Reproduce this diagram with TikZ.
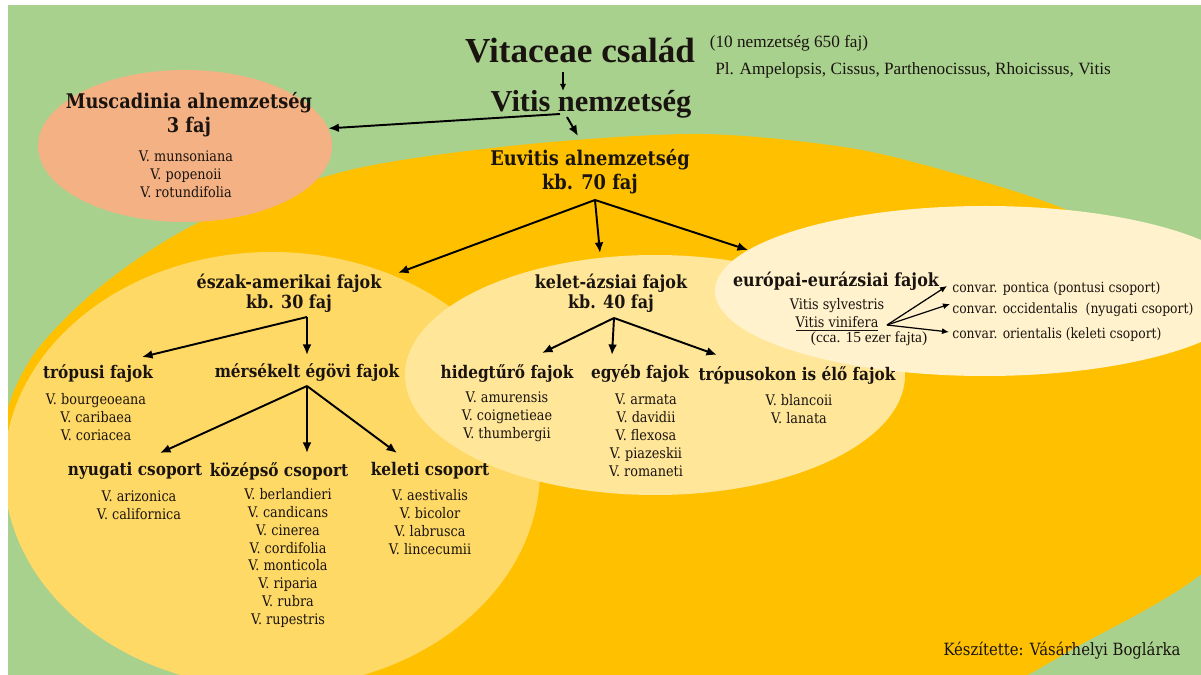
\documentclass[tikz,border=0pt]{standalone}
\usepackage{fontspec}
\setmainfont{Liberation Serif}
\newfontfamily\geo[FakeStretch=0.88]{DejaVu Serif}
\usetikzlibrary{arrows.meta,calc,shapes.geometric}

\definecolor{leaf}{HTML}{A9D18E}
\definecolor{amber}{HTML}{FFC000}
\definecolor{gold}{HTML}{FFD966}
\definecolor{straw}{HTML}{FFE699}
\definecolor{cream}{HTML}{FFF2CC}
\definecolor{salmon}{HTML}{F4B183}
\definecolor{ink}{HTML}{1A1410}

\tikzset{
  arr/.style={-{Latex[length=6pt,width=5pt]}, line width=1.1pt},
  thinarr/.style={-{Latex[length=4pt,width=3.5pt]}, line width=0.7pt},
  title/.style={font=\fontsize{20}{24}\selectfont\bfseries, text=ink, inner sep=0pt},
  genus/.style={font=\fontsize{17.3}{20}\selectfont\bfseries, text=ink, inner sep=0pt},
  note/.style={font=\fontsize{9.8}{11}\selectfont, text=ink, inner sep=0pt},
  head/.style={font=\geo\fontsize{11.5}{13.6}\selectfont\bfseries, align=center, text=ink, inner sep=0pt},
  grp/.style={font=\geo\fontsize{10.3}{11.3}\selectfont\bfseries, align=center, text=ink, inner sep=0pt},
  sub/.style={font=\geo\fontsize{9.9}{11.3}\selectfont\bfseries, align=center, text=ink, inner sep=0pt},
  spec/.style={font=\geo\fontsize{8.3}{10.2}\selectfont, align=center, text=ink, inner sep=0pt},
  convar/.style={font=\geo\fontsize{8}{9}\selectfont, text=ink, inner sep=0pt, anchor=west},
}

\begin{document}
\begin{tikzpicture}[x=0.02cm,y=-0.02cm]

	\useasboundingbox (0,0) rectangle (1201,675);
	\fill[white] (0,0) rectangle (1201,675);
	\fill[leaf] (8,5) rectangle (1201,675);
	
	% background areas
	\begin{scope}
		\clip (8,5) rectangle (1201,675);
		\fill[amber] plot [smooth cycle] coordinates{(5,440) (30,360) (100,287) (200,222) (350,170) (520,145) (700,134) (850,148) (960,175) (1067,210) (1200,275) (1290,400) (1222,555) (1080,645) (960,700) (700,730) (420,700) (200,620) (60,540)};
		\fill[gold] (272,470) ellipse (268 and 218);
		\fill[straw] (655,375) ellipse (250 and 120);
		\fill[cream] (985,291) ellipse (270 and 85);
	\end{scope}
	
	\node[ellipse, fill=salmon, minimum width=5.88cm, minimum height=3.04cm, inner sep=0pt] (musc) at (185,146) {};
	
	% top
	\node[title] (vitaceae) at (580,51) {Vitaceae család};
	\node[note] (nemz) at (789,43) {(10 nemzetség 650 faj)};
	\node[note] (pl) at (913,70) {Pl. Ampelopsis, Cissus, Parthenocissus, Rhoicissus, Vitis};
	\node[genus] (vitis) at (591,104) {Vitis nemzetség};
	
	\node[head] (muschead) at (189,115) {Muscadinia alnemzetség\\3 faj};
	\node[spec] (muscsp) at (186,174) {V. munsoniana\\V. popenoii\\V. rotundifolia};
	\node[head] (euvitis) at (590,172) {Euvitis alnemzetség\\kb. 70 faj};
	
	% eszak-amerikai
	\node[grp] (na) at (289,293) {észak-amerikai fajok\\kb. 30 faj};
	\node[sub] (trop) at (98,373) {trópusi fajok};
	\node[spec] (tropsp) at (96,417) {V. bourgeoeana\\V. caribaea\\V. coriacea};
	\node[sub] (mers) at (307,372) {mérsékelt égövi fajok};
	\node[sub] (nyug) at (135,471) {nyugati csoport};
	\node[spec] (nyugsp) at (139,505) {V. arizonica\\V. californica};
	\node[sub] (kozep) at (279,471) {középső csoport};
	\node[spec] (kozepsp) at (288,558) {V. berlandieri\\V. candicans\\V. cinerea\\V. cordifolia\\V. monticola\\V. riparia\\V. rubra\\V. rupestris};
	\node[sub] (kel) at (430,471) {keleti csoport};
	\node[spec] (kelsp) at (430,522) {V. aestivalis\\V. bicolor\\V. labrusca\\V. lincecumii};
	
	% kelet-azsiai
	\node[grp] (ea) at (611,293) {kelet-ázsiai fajok\\kb. 40 faj};
	\node[sub] (hideg) at (507,373) {hidegtűrő fajok};
	\node[spec] (hidegsp) at (507,417) {V. amurensis\\V. coignetieae\\V. thumbergii};
	\node[sub] (egyeb) at (640,373) {egyéb fajok};
	\node[spec] (egyebsp) at (646,435) {V. armata\\V. davidii\\V. flexosa\\V. piazeskii\\V. romaneti};
	\node[sub] (tropus) at (797,375) {trópusokon is élő fajok};
	\node[spec] (tropussp) at (799,409) {V. blancoii\\V. lanata};
	
	% europai
	\node[grp] (eu) at (836,281) {európai-eurázsiai fajok};
	\node[spec] (sylv) at (837,306) {Vitis sylvestris};
	\node[spec] (vinif) at (837,324) {\underline{Vitis vinifera}};
	\node[note, font=\fontsize{8.8}{10}\selectfont] (cca) at (869,339) {(cca. 15 ezer fajta)};
	\node[convar] (pontica) at (952,289) {convar. pontica (pontusi csoport)};
	\node[convar] (occ) at (952,310) {convar. occidentalis\ \ (nyugati csoport)};
	\node[convar] (orient) at (952,335) {convar. orientalis (keleti csoport)};
	
	\node[spec, font=\geo\fontsize{9.6}{11}\selectfont] (credit) at (1062,651) {Készítette: Vásárhelyi Boglárka};
	
	% arrows
	\draw[thinarr] ($(vitaceae)+(-17,21)$) -- ($(vitis)+(-28,-13)$);
	\draw[arr] ($(vitis)+(-31,10)$) -- (musc.7);
	\draw[arr] ($(vitis)+(-24,13)$) -- ($(euvitis)+(-12,-36)$);
	
	\draw[arr] ($(euvitis)+(5,28)$) -- ($(na)+(109,-20)$);
	\draw[arr] ($(euvitis)+(5,28)$) -- ($(ea)+(-11,-40)$);
	\draw[arr] ($(euvitis)+(5,28)$) -- ($(eu)+(-88,-31)$);
	
	\draw[arr] ($(na)+(18,24)$) -- ($(trop)+(44,-16)$);
	\draw[arr] ($(na)+(18,24)$) -- ($(mers)+(0,-17)$);
	\draw[arr] ($(mers)+(0,14)$) -- ($(nyug)+(25,-18)$);
	\draw[arr] ($(mers)+(0,14)$) -- ($(kozep)+(28,-18)$);
	\draw[arr] ($(mers)+(0,14)$) -- ($(kel)+(-33,-18)$);
	
	\draw[arr] ($(ea)+(3,25)$) -- ($(hideg)+(35,-20)$);
	\draw[arr] ($(ea)+(3,25)$) -- ($(egyeb)+(-28,-18)$);
	\draw[arr] ($(ea)+(3,25)$) -- ($(tropus)+(-80,-20)$);
	
	\draw[thinarr] ($(vinif)+(50,1)$) -- ($(pontica.west)+(-5,-3)$);
	\draw[thinarr] ($(vinif)+(50,1)$) -- ($(occ.west)+(-2,-6)$);
	\draw[thinarr] ($(vinif)+(50,1)$) -- ($(orient.west)+(-3,-3)$);
	
\end{tikzpicture}
\end{document}
